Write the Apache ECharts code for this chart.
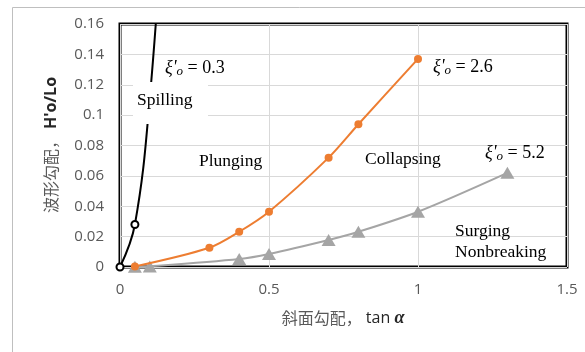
<!DOCTYPE html>
<html>
<head>
<meta charset="utf-8">
<script src="https://cdn.jsdelivr.net/npm/echarts@6/dist/echarts.min.js"></script>
<style>
  html, body { margin: 0; padding: 0; background: #fff; }
  #chart { width: 585px; height: 352px; }
</style>
</head>
<body>
<div id="chart"></div>
<script>
// Breaker-type boundaries: wave steepness H'o/Lo against beach slope tan α
const spillX = [0, 0.05, 0.1, 0.15];
const spillY = [0, 0.028, 0.111, 0.25];

const plungeX = [0.05, 0.3, 0.4, 0.5, 0.7, 0.8, 1.0];
const plungeY = [0.0004, 0.0127, 0.0232, 0.0364, 0.072, 0.094, 0.137];

const surgeX = [0.05, 0.1, 0.4, 0.5, 0.7, 0.8, 1.0, 1.3];
const surgeY = [0.0001, 0.0004, 0.0053, 0.0086, 0.0178, 0.0232, 0.0364, 0.062];

const xiValues = ['0.3', '2.6', '5.2'];
const regionNames = ['Spilling', 'Plunging', 'Collapsing', 'Surging', 'Nonbreaking'];

const xTickLabels = ['0', '0.5', '1', '1.5'];
const yTickLabels = ['0', '0.02', '0.04', '0.06', '0.08', '0.1', '0.12', '0.14', '0.16'];

const zip = (xs, ys) => xs.map((x, i) => [x, ys[i]]);

const SERIF = '"Liberation Serif", "Times New Roman", serif';
const SANS = '"Open Sans", "Noto Sans", sans-serif';
const CJK = '"Noto Sans CJK JP", "Noto Sans CJK SC", sans-serif';

function xiText(x, y, val) {
  return {
    type: 'text', x: x, y: y, z: 100,
    style: {
      text: '{g|ξ\'}{s|o}{n| = ' + val + '}',
      textVerticalAlign: 'middle',
      rich: {
        g: { fontFamily: SERIF, fontStyle: 'italic', fontSize: 18, lineHeight: 20, fill: '#000' },
        s: { fontFamily: SERIF, fontStyle: 'italic', fontSize: 13, lineHeight: 11, verticalAlign: 'bottom', fill: '#000' },
        n: { fontFamily: SERIF, fontSize: 18, lineHeight: 20, fill: '#000' }
      }
    }
  };
}

function regionText(x, y, txt) {
  return {
    type: 'text', x: x, y: y, z: 100,
    style: { text: txt, font: '17.5px ' + SERIF, fill: '#000', textVerticalAlign: 'middle' }
  };
}

const chart = echarts.init(document.getElementById('chart'), null, { renderer: 'canvas' });

chart.setOption({
  animation: false,
  backgroundColor: '#fff',
  grid: {
    left: 120, right: 18, top: 24, bottom: 85,
    show: true, borderColor: '#000', borderWidth: 3, backgroundColor: 'transparent'
  },
  xAxis: {
    type: 'value', min: 0, max: 1.5, interval: 0.5,
    axisLine: { show: false }, axisTick: { show: false },
    splitLine: { show: true, lineStyle: { color: '#D9D9D9', width: 1 } },
    axisLabel: {
      margin: 15, color: '#595959', fontFamily: SANS, fontSize: 15,
      formatter: (v, i) => xTickLabels[i]
    }
  },
  yAxis: {
    type: 'value', min: 0, max: 0.16, interval: 0.02,
    axisLine: { show: false }, axisTick: { show: false },
    splitLine: { show: true, lineStyle: { color: '#D9D9D9', width: 1 } },
    axisLabel: {
      margin: 16, color: '#595959', fontFamily: SANS, fontSize: 15,
      formatter: (v, i) => yTickLabels[i]
    }
  },
  series: [
    {
      name: 'ξ = 5.2', type: 'line', data: zip(surgeX, surgeY), smooth: 0.3,
      symbol: 'triangle', symbolSize: [14, 12],
      lineStyle: { color: '#A5A5A5', width: 2 },
      itemStyle: { color: '#A5A5A5' }, z: 3
    },
    {
      name: 'ξ = 2.6', type: 'line', data: zip(plungeX, plungeY), smooth: 0.3,
      symbol: 'circle', symbolSize: 8,
      lineStyle: { color: '#ED7D31', width: 2 },
      itemStyle: { color: '#ED7D31' }, z: 4
    },
    {
      name: 'ξ = 0.3', type: 'line', data: zip(spillX, spillY), smooth: 0.4,
      symbol: 'emptyCircle', symbolSize: 7, clip: true,
      lineStyle: { color: '#000', width: 2 },
      itemStyle: { color: '#000', borderColor: '#000', borderWidth: 1.5 }, z: 5
    }
  ],
  graphic: {
    elements: [
      // outer chart frame
      { type: 'rect', z: 0, silent: true,
        shape: { x: 12.5, y: 7.5, width: 620, height: 400 },
        style: { fill: 'none', stroke: '#BFBFBF', lineWidth: 1 } },
      // label box sitting over the spilling curve
      { type: 'rect', z: 90, silent: true,
        shape: { x: 133, y: 82, width: 75, height: 42 },
        style: { fill: '#fff' } },
      regionText(137, 100, regionNames[0]),
      regionText(199, 161, regionNames[1]),
      regionText(365, 159, regionNames[2]),
      regionText(455, 231, regionNames[3]),
      regionText(455, 252, regionNames[4]),
      xiText(165, 68, xiValues[0]),
      xiText(433, 67, xiValues[1]),
      xiText(485, 153, xiValues[2]),
      // y-axis title
      { type: 'text', x: 51, y: 145, rotation: Math.PI / 2, z: 100,
        style: {
          text: '{c|波形勾配，}{l| H\'o/Lo}',
          textAlign: 'center', textVerticalAlign: 'middle',
          rich: {
            c: { fontFamily: CJK, fontSize: 16, fill: '#595959' },
            l: { fontFamily: SANS, fontSize: 16, fontWeight: 'bold', fill: '#262626' }
          }
        } },
      // x-axis title
      { type: 'text', x: 343, y: 318, z: 100,
        style: {
          text: '{c|斜面勾配，}{l| tan }{a|α}',
          textAlign: 'center', textVerticalAlign: 'middle',
          rich: {
            c: { fontFamily: CJK, fontSize: 16, fill: '#595959' },
            l: { fontFamily: SANS, fontSize: 16, fill: '#262626' },
            a: { fontFamily: SERIF, fontSize: 18, fontStyle: 'italic', fontWeight: 'bold', fill: '#262626' }
          }
        } }
    ]
  }
});
</script>
</body>
</html>
